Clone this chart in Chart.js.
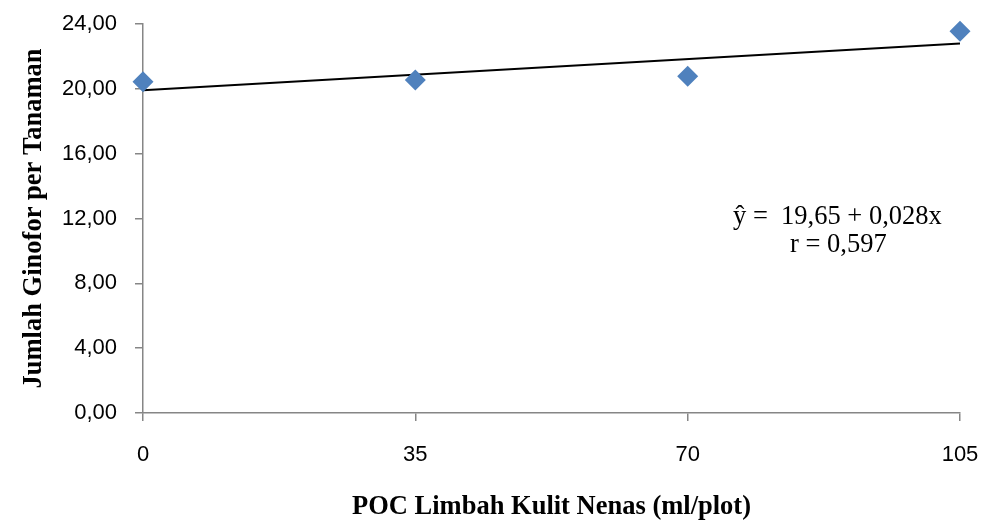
<!DOCTYPE html>
<html>
<head>
<meta charset="utf-8">
<script src="https://cdn.jsdelivr.net/npm/chart.js@4.4.1/dist/chart.umd.min.js"></script>
<style>
html,body{margin:0;padding:0;background:#fff;}
#wrap{width:984px;height:523px;}
</style>
</head>
<body>
<div id="wrap"><canvas id="c" width="984" height="523"></canvas></div>
<script>
const doses = [0, 35, 70, 105];
const ginofor = [20.43, 20.54, 20.78, 23.56];
const trendX = [0, 105];
const trendY = [19.91, 22.80];
const xTicks = [0, 35, 70, 105];
const yTicks = [0, 4, 8, 12, 16, 20, 24];
const equationLines = ["ŷ =  19,65 + 0,028x", "r = 0,597"];
const xTitle = "POC Limbah Kulit Nenas (ml/plot)";
const yTitle = "Jumlah Ginofor per Tanaman";

const annot = {
  id: 'annot',
  afterDraw(chart) {
    const ctx = chart.ctx;
    ctx.save();
    ctx.fillStyle = '#000';
    ctx.font = '26.5px "Liberation Serif", "Times New Roman", serif';
    ctx.textBaseline = 'middle';
    ctx.textAlign = 'left';
    ctx.fillText(equationLines[0], 733, 217);
    ctx.fillText(equationLines[1], 790, 245);
    ctx.restore();
  }
};

new Chart(document.getElementById('c'), {
  type: 'scatter',
  data: {
    datasets: [
      {
        label: 'Ginofor',
        data: doses.map((x, i) => ({x: x, y: ginofor[i]})),
        pointStyle: 'rectRot',
        pointRadius: 10.5,
        pointHoverRadius: 10.5,
        backgroundColor: '#4F81BD',
        borderColor: '#4F81BD',
        borderWidth: 0,
        clip: false,
        order: 1
      },
      {
        type: 'line',
        label: 'Trend',
        data: trendX.map((x, i) => ({x: x, y: trendY[i]})),
        borderColor: '#000',
        borderWidth: 2,
        pointRadius: 0,
        fill: false,
        clip: false,
        order: 2
      }
    ]
  },
  options: {
    responsive: false,
    animation: false,
    plugins: { legend: { display: false }, tooltip: { enabled: false } },
    layout: { padding: { top: 24, right: 24, left: 0, bottom: 0 } },
    scales: {
      x: {
        type: 'linear',
        min: 0, max: 105,
        afterBuildTicks(scale) { scale.ticks = xTicks.map(v => ({value: v})); },
        afterFit(scale) { scale.height = 110; scale.paddingLeft = 0; scale.paddingRight = 0; },
        grid: { drawOnChartArea: false, drawTicks: true, tickLength: 8, color: '#868686', lineWidth: 1.5 },
        border: { display: true, color: '#868686', width: 1.5 },
        ticks: {
          color: '#000',
          font: { family: '"Liberation Sans", Arial, sans-serif', size: 22 },
          padding: 21,
          maxRotation: 0,
          callback: v => String(v)
        },
        title: {
          display: true,
          text: xTitle,
          color: '#000',
          font: { family: '"Liberation Serif", "Times New Roman", serif', size: 26.5, weight: 'bold' },
          padding: { top: 0, bottom: 0 }
        }
      },
      y: {
        type: 'linear',
        min: 0, max: 24,
        afterBuildTicks(scale) { scale.ticks = yTicks.map(v => ({value: v})); },
        afterFit(scale) { scale.width = 143; scale.paddingTop = 0; scale.paddingBottom = 0; },
        grid: { drawOnChartArea: false, drawTicks: true, tickLength: 8, color: '#868686', lineWidth: 1.5 },
        border: { display: true, color: '#868686', width: 1.5 },
        ticks: {
          color: '#000',
          font: { family: '"Liberation Sans", Arial, sans-serif', size: 22 },
          padding: 18,
          callback: v => v.toFixed(2).replace('.', ',')
        },
        title: {
          display: true,
          text: yTitle,
          color: '#000',
          font: { family: '"Liberation Serif", "Times New Roman", serif', size: 26.5, weight: 'bold' },
          padding: { top: 18, bottom: 0 }
        }
      }
    }
  },
  plugins: [annot]
});
</script>
</body>
</html>
